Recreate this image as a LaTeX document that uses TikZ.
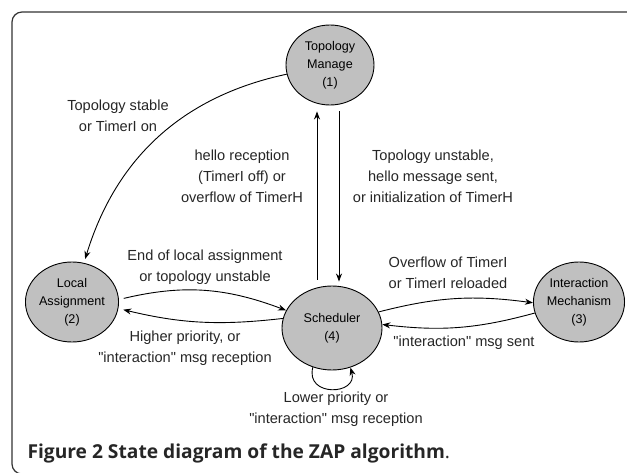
\documentclass[tikz,border=0pt]{standalone}
\usepackage{fontspec}
\setmainfont{Liberation Sans}
\newfontfamily\capfont{Open Sans}
\usepackage{tikz}
\usetikzlibrary{shapes.geometric,arrows.meta}
\definecolor{stategray}{HTML}{C0C0C0}
\definecolor{framegray}{HTML}{333333}

\begin{document}
\begin{tikzpicture}[x=1pt,y=-1pt,>={Stealth[length=8pt,width=6pt,inset=2.5pt]}]
					\tikzstyle{state}=[ellipse,draw=black,fill=stategray,line width=0.9pt,inner sep=0pt,minimum width=88pt,minimum height=80pt,align=center,font=\fontsize{12.6}{18}\selectfont]
					\tikzstyle{cond}=[align=center,text=black!85,font=\fontsize{14.6}{21}\selectfont]
					\useasboundingbox (0,0) rectangle (627,473);
					\draw[framegray,line width=1.2pt,rounded corners=10pt] (12,12) rectangle (660,474);
					\node[state](v1) at (330,65) {Topology\\Manage\\(1)};
					\node[state](v2) at (72,302) {Local\\Assignment\\(2)};
					\node[state](v3) at (579,302) {Interaction\\Mechanism\\(3)};
					\node[state,minimum width=100pt,minimum height=84pt](v4) at (332,328) {Scheduler\\(4)};
					\node[cond](c1) at (118,115.5) {Topology stable\\or TimerI on};
					\node[cond](c2) at (242,176) {hello reception\\(TimerI off) or\\overflow of TimerH};
					\node[cond](c3) at (433,176) {Topology unstable,\\hello message sent,\\or initialization of TimerH};
					\node[cond](c4) at (205,267) {End of local assignment\\or topology unstable};
					\node[cond](c5) at (185,348) {Higher priority, or\\\textquotedbl interaction\textquotedbl{} msg reception};
					\node[cond](c6) at (448,273) {Overflow of TimerI\\or TimerI reloaded};
					\node[cond](c7) at (464,343) {\textquotedbl interaction\textquotedbl{} msg sent};
					\node[cond](c8) at (336,409) {Lower priority or\\\textquotedbl interaction\textquotedbl{} msg reception};
					\node[anchor=west,text=black!85,font=\capfont\fontsize{19.2}{23}\selectfont](cap) at (24,453) {\bfseries Figure 2 State diagram of the ZAP algorithm\mdseries.};
					\draw[->,line width=0.9pt,shorten >=4pt] (v1) to [out=192,in=73] (v2);
					\draw[->,line width=0.9pt,shorten <=6pt,shorten >=6pt] ([xshift=-15pt]v4.north) -- ([xshift=-13pt]v1.south);
					\draw[->,line width=0.9pt,shorten <=6pt,shorten >=4pt] ([xshift=9pt]v1.south) -- ([xshift=7pt]v4.north);
					\draw[->,line width=0.9pt,shorten <=5pt] (v2.3) to [bend left=17] (v4.159);
					\draw[->,line width=0.9pt,shorten >=5pt] (v4.169) to [bend left=10] (v2.352);
					\draw[->,line width=0.9pt] (v4.19) to [bend left=11] (v3.181);
					\draw[->,line width=0.9pt] (v3.194) to [bend left=11] (v4.4);
					\draw[->,line width=0.9pt] (v4.244) .. controls +(-8,30) and +(8,28) .. (v4.295);
				\end{tikzpicture}
\end{document}
